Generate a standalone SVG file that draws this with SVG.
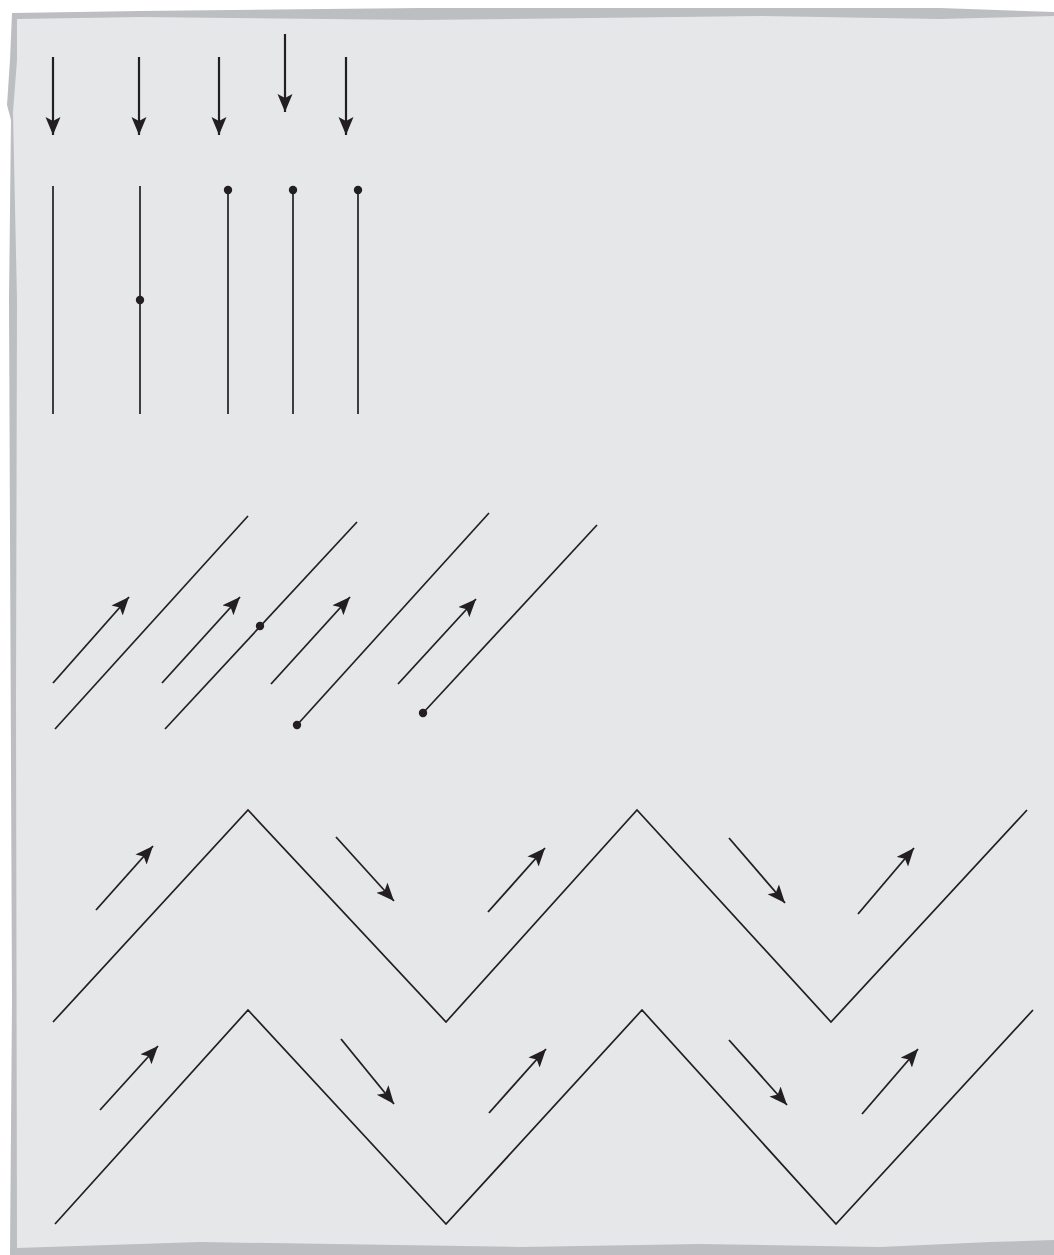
<svg xmlns="http://www.w3.org/2000/svg" width="1054" height="1255" viewBox="0 0 1054 1255">
<defs>
<marker id="ah" markerUnits="userSpaceOnUse" markerWidth="20" markerHeight="16" refX="18" refY="7.5" orient="auto">
<path d="M0,0 L18,7.5 L0,15 L4,7.5 z" fill="#231f20"/>
</marker>
<style>
.ln{stroke:#231f20;stroke-width:1.7;fill:none}
.ar{stroke:#231f20;stroke-width:1.8;fill:none;marker-end:url(#ah)}
.tv{stroke:#231f20;stroke-width:2.2;fill:none;marker-end:url(#ah)}
.dot{fill:#231f20}
</style>
</defs>
<rect width="1054" height="1255" fill="#ffffff"/>
<polygon points="12,13 140,11 420,8 760,8 940,8 1054,12 1054,1255 10,1255 12,1000 9,300 11,120 7,105 10,60" fill="#bdbec1"/>
<polygon points="17,19 140,17 420,20 760,16 940,19 1054,16 1054,1240 990,1242 880,1247 700,1244 520,1247 200,1242 17,1248 16,700 17,300 13,112 17,60" fill="#e6e7e9"/>
<g id="top-arrows">
<line class="tv" x1="53" y1="57" x2="53" y2="135"/>
<line class="tv" x1="139" y1="57" x2="139" y2="135"/>
<line class="tv" x1="219" y1="57" x2="219" y2="135"/>
<line class="tv" x1="285" y1="34" x2="285" y2="112"/>
<line class="tv" x1="346" y1="57" x2="346" y2="135"/>
</g>
<g id="vertical-lines">
<line class="ln" x1="53" y1="186" x2="53" y2="414"/>
<line class="ln" x1="140" y1="186" x2="140" y2="414"/>
<circle class="dot" cx="140" cy="300" r="4.2"/>
<line class="ln" x1="228" y1="190" x2="228" y2="414"/>
<circle class="dot" cx="228" cy="190" r="4.2"/>
<line class="ln" x1="293" y1="190" x2="293" y2="414"/>
<circle class="dot" cx="293" cy="190" r="4.2"/>
<line class="ln" x1="358" y1="190" x2="358" y2="414"/>
<circle class="dot" cx="358" cy="190" r="4.2"/>
</g>
<g id="diagonals">
<line class="ln" x1="55" y1="729" x2="248" y2="516"/>
<line class="ar" x1="53" y1="683" x2="129" y2="597"/>
<line class="ln" x1="165" y1="729" x2="357" y2="522"/>
<circle class="dot" cx="260" cy="626" r="4.2"/>
<line class="ar" x1="162" y1="683" x2="240" y2="597"/>
<line class="ln" x1="297" y1="725" x2="489" y2="513"/>
<circle class="dot" cx="297" cy="725" r="4.2"/>
<line class="ar" x1="271" y1="684" x2="350" y2="597"/>
<line class="ln" x1="423" y1="713" x2="597" y2="525"/>
<circle class="dot" cx="423" cy="713" r="4.2"/>
<line class="ar" x1="398" y1="684" x2="476" y2="599"/>
</g>
<g id="zigzag-1">
<polyline class="ln" points="53,1022 248,810 446,1022 637,810 831,1022 1027,810"/>
<line class="ar" x1="96" y1="910" x2="153" y2="846"/>
<line class="ar" x1="336" y1="837" x2="394" y2="901"/>
<line class="ar" x1="488" y1="912" x2="545" y2="848"/>
<line class="ar" x1="729" y1="838" x2="785" y2="903"/>
<line class="ar" x1="858" y1="914" x2="914" y2="848"/>
</g>
<g id="zigzag-2">
<polyline class="ln" points="55,1224 248,1010 446,1224 642,1010 836,1224 1033,1010"/>
<line class="ar" x1="100" y1="1110" x2="158" y2="1046"/>
<line class="ar" x1="341" y1="1039" x2="394" y2="1104"/>
<line class="ar" x1="489" y1="1113" x2="546" y2="1049"/>
<line class="ar" x1="729" y1="1040" x2="787" y2="1105"/>
<line class="ar" x1="862" y1="1114" x2="918" y2="1049"/>
</g>
</svg>
